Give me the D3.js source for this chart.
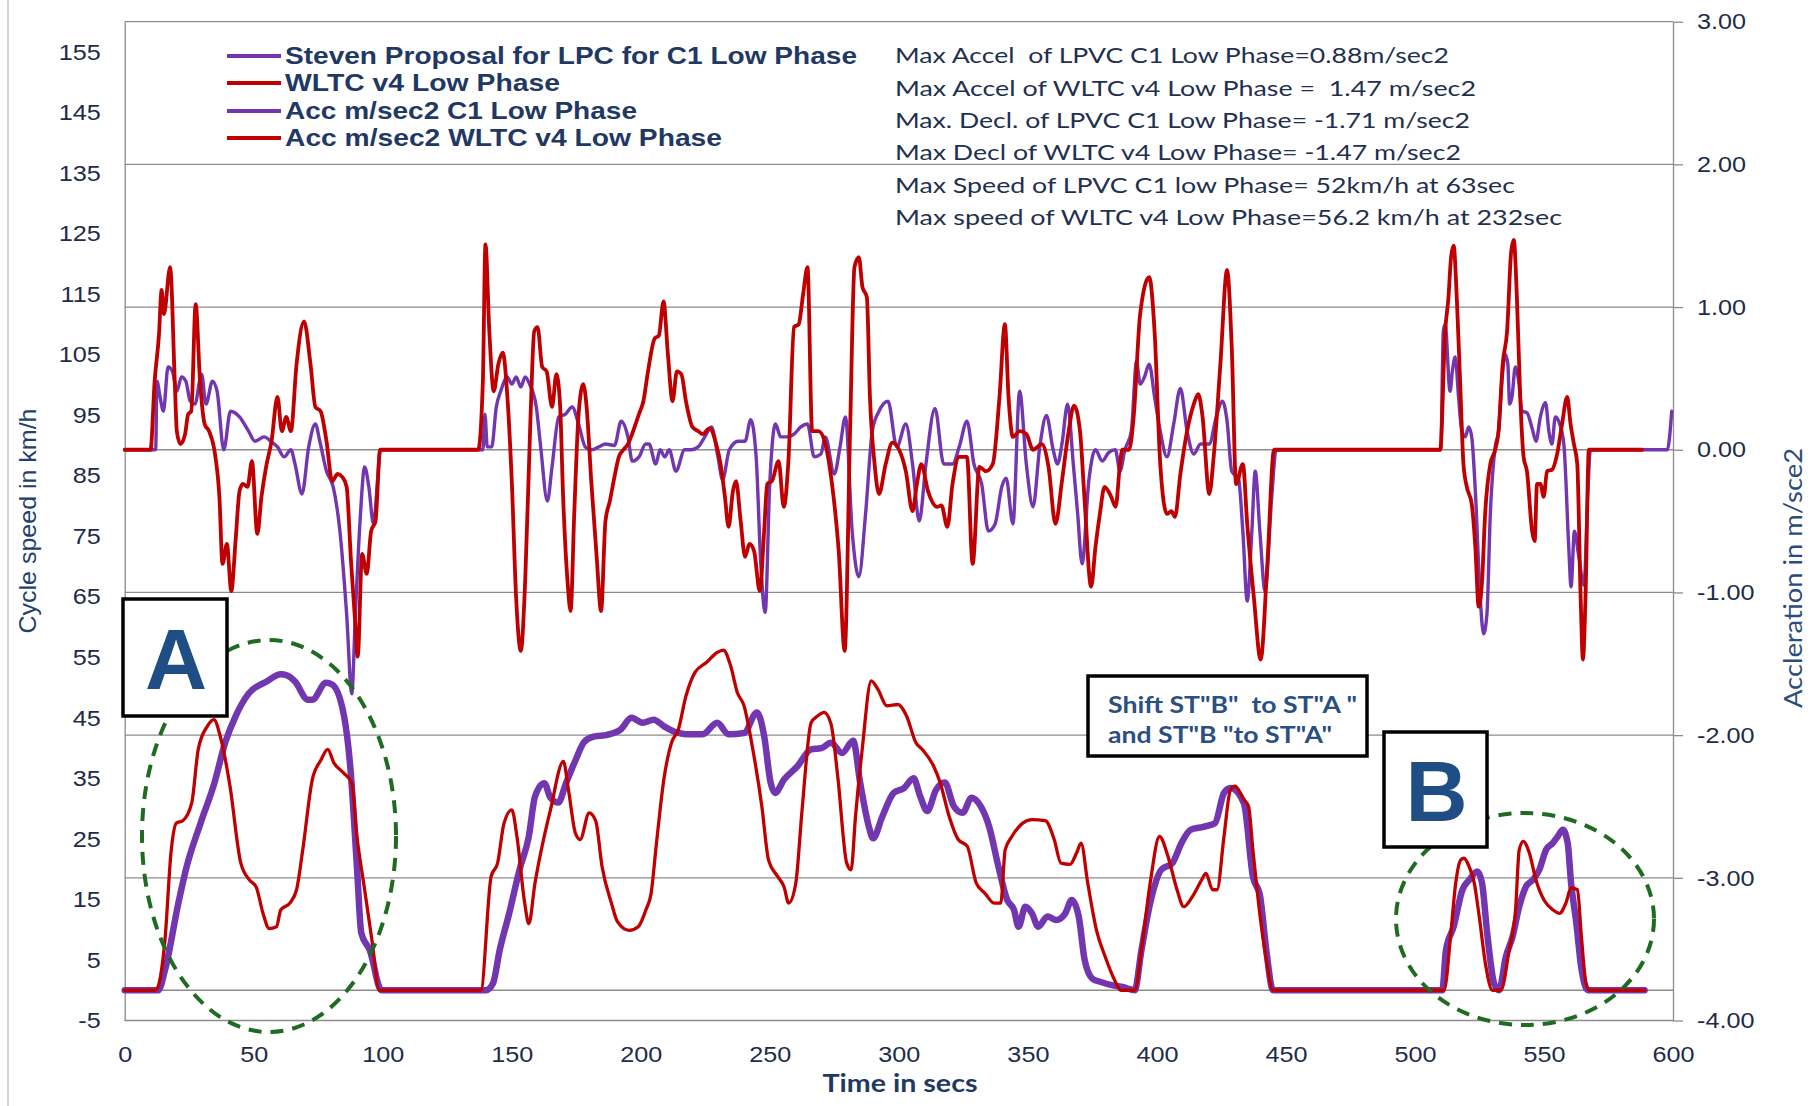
<!DOCTYPE html>
<html>
<head>
<meta charset="utf-8">
<script src="https://cdn.jsdelivr.net/npm/d3@7"></script>
<style>
  html, body { margin: 0; padding: 0; background: #ffffff; }
  svg { display: block; }
  text { white-space: pre; }
</style>
</head>
<body>
<svg id="chart" width="1810" height="1106"></svg>
<script>
// ---------- data: [time in s, value] ----------
const speedC1 = [[0,0],[13,0],[15.6,3.3],[20.8,14.4],[24,20.4],[29.4,27.6],[34.6,34],[39,41],[43,45.3],[48,49],[55,51],[60.5,52.2],[63,52],[66,51],[71,48],[72.7,48],[78,50.8],[80.4,50.5],[85,45.3],[87.4,37],[90,20.4],[91.7,9.4],[95,6.6],[99.5,0],[140,0],[142.7,1.1],[145.3,6.6],[149,12.7],[153,19.9],[156.6,25.4],[159,32],[162.6,34.2],[165,31.8],[168,31],[171,34.2],[174.7,38],[178,41],[181.7,41.9],[187,42.2],[192,43],[196.4,45],[200.7,44.2],[205,44.7],[209,43.6],[214.5,42.5],[217.5,42.3],[224,42.3],[229.6,44.2],[234,42.3],[240,42.5],[245,45.9],[247.8,42],[250.3,34.3],[252,32.6],[255.5,34.8],[260.7,37],[266,39.8],[270,40],[273.7,40.9],[278,39.2],[282.3,41.2],[285,34.3],[288.4,27],[290,25.1],[293.6,28.7],[298,32.6],[302,33.4],[305.7,35],[308.3,32],[311,29.6],[314.4,33.1],[317.8,34.3],[321.3,30.4],[324.7,29.3],[328.2,31.8],[331.7,30.4],[335,27],[338.6,20.4],[342,14.9],[344.6,13.3],[346.4,10.5],[349,13.8],[351.6,12.7],[354,10.5],[357.6,12.2],[361,11.6],[364.5,12.7],[367,14.9],[369.7,12.2],[372,5],[375,1.9],[378,1.4],[383,0.8],[387,0.5],[391.4,0],[394,6.6],[397.4,14.4],[401.7,19.9],[406,21],[409.5,24.3],[413,26.5],[418,27],[422.5,27.6],[426,32.6],[428.5,33.4],[433.7,30.9],[437.2,18.8],[440,15.5],[442.4,6.6],[445,0],[510.6,0],[512,6.6],[515,10.5],[518.4,16.6],[521,18.2],[524.2,19.6],[526,17.7],[528,9.4],[530.7,1.1],[532.6,0],[535.2,5.5],[537.8,8.8],[540.4,13.8],[543,17.1],[545.6,18.2],[548.2,19.9],[550.8,23.2],[553.4,24.3],[555.3,25.4],[557.3,26.5],[559.2,24.3],[560.5,17.7],[562.4,11.6],[564.4,3.9],[567,0],[589,0]];

const speedWLTC = [[0,0],[12,0],[15.6,8.3],[18,23],[20,27.6],[22.5,28],[26,31],[28.5,39.8],[32,43.6],[34.6,44.7],[37,42],[40.7,34],[45,21],[48.4,18.2],[51,17],[53.6,12.7],[56,10.2],[58.8,10.5],[60.5,13.3],[64,14.4],[66.6,16.6],[69,23.2],[72.7,34.8],[76,38],[78.7,39.8],[81,37.6],[84.8,35.9],[88,34.2],[90,25.4],[92.6,17.7],[96,7.7],[98.6,0],[138,0],[142,18.8],[144.5,21],[147,27.6],[150,29.8],[152,25.4],[155,14.4],[156.6,11],[159,17.7],[162,24.3],[165,29.8],[170,37.8],[172,33],[174.7,25.9],[176.5,24.9],[180,29.3],[182.5,28],[185,20.4],[188.6,14.4],[191,11.3],[195.5,9.9],[199,10.5],[202,13.3],[204,16],[206,24],[209,35],[212,41],[214.5,43],[217.5,48.6],[221,52.5],[225.3,54.1],[229.6,55.8],[232,56.2],[234.8,53.6],[237.4,49.2],[240,47],[243.4,39.8],[246.9,30.4],[249.5,21.5],[253,18.8],[255.5,17.1],[257.3,14.4],[260,17.5],[262.5,29.8],[266,44.2],[268.5,45.3],[271,45.9],[273.7,44],[276.3,35.4],[279.8,21],[281.5,19.9],[283.2,28.7],[285.8,39.8],[289.3,51.1],[291.9,49.7],[295.3,47],[299.7,47.2],[303,45.3],[306.6,40.9],[309,39.8],[313.5,37],[316,34.3],[319.5,28.7],[323,24.9],[326.5,23.8],[330,17.7],[333.4,16],[336.9,14.4],[339.5,14.4],[341.2,23.2],[343.8,25.4],[348,27.6],[351.6,28.2],[356.7,28],[360.2,24.9],[362.8,21],[366.3,20.8],[368.9,22.7],[370.6,24.3],[373.2,17.7],[376.6,9.9],[380,5.5],[383.6,1.7],[386,0],[391.4,0],[394,6.6],[397.4,17.7],[401,25.4],[404.3,22.1],[407.8,16.6],[410.4,13.8],[413.8,15.5],[417.3,18.2],[419,19.3],[421.6,16.6],[423.3,16.6],[426,25.4],[428.5,33.1],[430.3,33.7],[433.7,31.5],[435.5,30.4],[437.2,23.2],[440,12.2],[442.4,5],[445,0],[511.3,0],[513.9,9.4],[515.8,17.7],[517.7,21.5],[519,21.8],[521,20.4],[523,17.7],[524.9,12.2],[527.5,3.9],[530,0],[533.3,0],[536.5,6.6],[539,13.3],[540.4,23.2],[542,24.6],[544.3,22.7],[546.9,18.2],[550,14.9],[553.4,13.3],[556,12.7],[558.5,14.4],[560.5,16.9],[563,16.6],[564.4,9.4],[566.3,1.1],[567.6,0],[589,0]];

const accC1 = [[0,0],[12,0],[12.5,0.48],[13.7,0.37],[15,0.27],[16.8,0.58],[18.5,0.55],[20.2,0.41],[22,0.51],[23.7,0.48],[25.4,0.34],[27.2,0.32],[29.8,0.53],[31.5,0.32],[34,0.48],[35.8,0.41],[38.4,0],[41,0.27],[44.5,0.23],[48,0.13],[50.5,0.06],[54,0.09],[56.6,0.06],[59.2,0.02],[61.8,-0.05],[64.4,0],[66,-0.1],[68.7,-0.31],[71.3,0.02],[73.9,0.18],[75.6,0.06],[78.2,-0.15],[80.8,-0.26],[83.4,-0.57],[86,-1.15],[88,-1.71],[89.4,-1.15],[91.2,-0.5],[93,-0.12],[94.6,-0.26],[96.4,-0.52],[98,-0.21],[99,0],[138.8,0],[139.6,0.25],[140.5,0.02],[142.2,0.02],[144,0.3],[145.7,0.41],[148.3,0.51],[150,0.46],[151.7,0.51],[153.5,0.44],[155.2,0.51],[156.9,0.46],[159.5,0.3],[161.2,0.02],[163.8,-0.36],[165.6,-0.12],[168.2,0.23],[170.8,0.25],[173.4,0.3],[175.9,0.18],[178.5,0.02],[181,0],[183.7,0.02],[186.3,0.04],[189.8,0.03],[192.4,0.2],[195,0.09],[196.7,-0.08],[199.3,-0.05],[201.9,0.04],[203.2,0.04],[205.8,-0.1],[207.5,0],[209.3,-0.05],[211,0],[213.6,-0.15],[217,0],[219.6,0],[222.2,0.02],[224.8,0.09],[227.4,0.16],[229.9,-0.05],[231.7,-0.21],[234.3,0],[237.8,0.06],[240.4,0.06],[242.6,0.21],[244.7,-0.05],[246.5,-0.8],[248.2,-1.14],[249.9,-0.27],[252.2,0.18],[254.2,0.09],[256.8,0.09],[259.4,0.11],[262,0.16],[264.6,0.18],[267.2,-0.05],[269.8,-0.03],[271.5,0.09],[275,-0.17],[277.2,0.02],[279.3,0.23],[281.9,-0.57],[284.5,-0.89],[287.1,-0.45],[289.7,0.13],[292.3,0.27],[295.8,0.34],[299.2,0.02],[302.7,0.18],[305.3,-0.1],[307.9,-0.5],[310.5,-0.1],[314,0.29],[317.4,-0.1],[320.8,-0.1],[323.4,0.02],[326.4,0.2],[329.1,-0.1],[332.1,-0.24],[334.7,-0.57],[337.3,-0.52],[339.9,-0.26],[341.6,-0.2],[344.2,-0.52],[346.8,0.41],[349.4,-0.1],[352,-0.4],[354.6,0.02],[357.2,0.24],[359.8,0],[361.5,-0.1],[363.2,0.04],[365.4,0.32],[367.6,-0.1],[369.3,-0.45],[371,-0.8],[373.6,-0.22],[376.2,0],[378.8,-0.08],[381.3,-0.02],[383.9,0],[385.7,-0.15],[387.6,0],[390.1,0.13],[392.1,0.62],[393.5,0.46],[395.2,0.51],[397,0.6],[399.1,0.37],[401.3,0.13],[403.9,-0.05],[406.5,0.18],[409.1,0.43],[411.7,0.13],[414.3,-0.03],[416.9,0.04],[420.3,0.04],[423,0.23],[425.4,0.34],[427.2,0.2],[429,-0.15],[431.6,-0.2],[433.3,-0.57],[435,-1.06],[436.8,-0.57],[438.1,-0.15],[439.9,-0.57],[441.9,-0.99],[444.5,-0.33],[446.2,0],[510,0],[511,0.83],[511.7,0.88],[513.6,0.41],[514.5,0.55],[515.6,0.65],[516.9,0.37],[518.2,0.13],[519.5,0.09],[520.8,0.16],[522,0.09],[523.4,-0.29],[525.3,-1.04],[526.6,-1.29],[527.9,-1.15],[529.2,-0.45],[531.1,0.02],[532.4,0.13],[533.7,0.48],[535,0.67],[536,0.6],[536.7,0.32],[537.6,0.37],[538.9,0.58],[540.2,0.48],[541.5,0.27],[543.4,0.26],[545.4,0.15],[546.9,0.06],[548.6,0.23],[550.6,0.33],[551.9,0.13],[553.1,0.04],[554.4,0.23],[555.7,0.2],[557.7,0.04],[559.6,-0.68],[560.5,-0.96],[561.8,-0.57],[563.5,-0.75],[565.5,-0.95],[567,-0.3],[568,0],[597.8,0],[599.5,0.27]];

const accWLTC = [[0,0],[10,0],[11.6,0.48],[13.3,0.81],[14.3,1.12],[15.2,0.95],[17.6,1.28],[19.4,0.48],[20.2,0.13],[21.6,0.04],[23.4,0.11],[24.6,0.25],[25.8,0.27],[27.5,1.02],[29.2,0.48],[31,0.18],[32.7,0.13],[35,-0.03],[36.7,-0.33],[37.9,-0.8],[39.6,-0.66],[41.3,-0.99],[43,-0.63],[44.5,-0.29],[45.8,-0.24],[47.6,-0.26],[49.3,-0.08],[51.4,-0.59],[53,-0.33],[54.8,-0.12],[56.9,0.06],[59.2,0.37],[60.9,0.13],[62.6,0.23],[64.4,0.13],[66.6,0.6],[69.5,0.9],[72,0.6],[73.9,0.3],[75.9,0.27],[78.2,0.06],[80.4,-0.22],[82.5,-0.17],[84.3,-0.19],[86,-0.26],[87.7,-0.78],[89.1,-1.15],[90.3,-1.45],[92,-0.73],[93.8,-0.87],[95.5,-0.57],[97.2,-0.5],[99,0],[137,0],[138.8,0.48],[139.8,1.44],[141.3,0.83],[143,0.41],[144.8,0.6],[146.5,0.68],[148.3,0.37],[150,-0.22],[151.7,-1.04],[153.5,-1.41],[155.2,-0.92],[157.3,0.25],[158.7,0.83],[160,0.86],[161.8,0.58],[163.5,0.55],[165.6,0.3],[167.3,0.53],[168.7,0.32],[169.9,-0.33],[171.6,-0.92],[172.8,-1.13],[174.2,-0.45],[175.9,0.25],[177.7,0.46],[179,0.3],[180.8,-0.22],[182.9,-0.75],[184.6,-1.13],[186.3,-0.5],[188,-0.36],[189.8,-0.19],[191.5,-0.05],[193.3,0],[195,0.04],[197.6,0.16],[199.3,0.25],[201,0.34],[202.8,0.55],[205.4,0.78],[207,0.8],[208.8,1.04],[210.5,0.67],[212.3,0.34],[214,0.55],[215.7,0.53],[217.5,0.34],[220,0.16],[222.3,0.13],[224,0.11],[226.6,0.15],[229.2,0.04],[230.9,-0.1],[232.6,-0.33],[234,-0.54],[235.7,-0.29],[236.9,-0.22],[238.7,-0.5],[240.4,-0.75],[242.1,-0.66],[243.9,-0.71],[246.1,-0.99],[247.8,-0.57],[249,-0.24],[250.8,-0.22],[253.4,-0.08],[255.4,-0.4],[257.2,-0.08],[259.4,0.86],[261.2,0.88],[262.9,1.09],[264.6,1.28],[266.4,0.13],[268.9,0.13],[271.5,0.04],[274.1,-0.24],[276.7,-0.71],[279,-1.41],[281.1,0.13],[282.8,1.28],[284.5,1.35],[285.9,1.14],[287.6,1.07],[288.8,0.37],[290.6,-0.1],[292.3,-0.31],[294.9,-0.1],[297.5,0.05],[300.1,0],[302.7,-0.15],[305.3,-0.43],[307,-0.24],[308.7,-0.1],[311.3,-0.29],[314.8,-0.4],[316.5,-0.39],[318.8,-0.54],[320.8,-0.24],[323.4,-0.05],[326.4,-0.05],[328.6,-0.8],[331.2,-0.12],[333.8,-0.15],[336.4,-0.1],[339,0.37],[341.1,0.88],[342.5,0.37],[344.2,0.09],[346.8,0.13],[349.4,0.11],[352,0],[355.4,0.04],[358,-0.12],[360.7,-0.52],[363.2,-0.22],[365.8,0.13],[367.9,0.31],[370.2,0.13],[371.9,-0.33],[374.5,-0.96],[376.2,-0.68],[377.9,-0.45],[379.7,-0.26],[382.3,-0.33],[384,-0.4],[385.7,-0.1],[386.6,0],[389.2,0],[391,0.23],[393.5,0.95],[397,1.21],[399.1,0.83],[401.3,-0.1],[403.9,-0.45],[405.6,-0.43],[407,-0.47],[409.1,-0.17],[411.7,0.13],[414.3,0.32],[416,0.39],[417.7,0.23],[420.3,-0.31],[422,-0.05],[424.6,0.6],[427.2,1.26],[429,0.72],[430.7,-0.24],[433.3,-0.1],[435,-0.52],[437.6,-1.04],[440.2,-1.47],[442.8,-0.8],[445.4,0],[509.8,0],[511.7,0.83],[513,1.07],[514,1.35],[515,1.43],[516.2,1.07],[517.5,0.48],[518.8,-0.1],[520.1,-0.26],[522,-0.38],[523.4,-0.68],[524.7,-1.1],[526,-0.92],[527.2,-0.45],[529.2,-0.1],[531.1,0],[532.4,0.13],[534,0.6],[535.7,0.83],[537.3,1.39],[538.3,1.47],[539.5,1.07],[540.8,0.37],[542.1,-0.05],[543.4,-0.15],[545.4,-0.57],[546.4,-0.64],[547.3,-0.24],[548.6,-0.24],[549.9,-0.33],[551.2,-0.15],[553.1,-0.14],[555.1,-0.03],[557,0.18],[559,0.37],[560.3,0.18],[561.6,0.04],[562.9,-0.1],[564.2,-1.03],[565.1,-1.47],[566.1,-1.03],[567.4,0],[588,0]];

// ---------- axis ticks ----------
const timeTicks  = [0, 50, 100, 150, 200, 250, 300, 350, 400, 450, 500, 550, 600];
const speedTicks = [-5, 5, 15, 25, 35, 45, 55, 65, 75, 85, 95, 105, 115, 125, 135, 145, 155];
const accTicks   = [-4, -3, -2, -1, 0, 1, 2, 3];

// ---------- legend and notes ----------
const legendItems = [
  { label: "Steven Proposal for LPC for C1 Low Phase", color: "#7236B0" },
  { label: "WLTC v4 Low Phase", color: "#C00000" },
  { label: "Acc m/sec2 C1 Low Phase", color: "#7236B0" },
  { label: "Acc m/sec2 WLTC v4 Low Phase", color: "#C00000" }
];
const notes = [
  "Max Accel  of LPVC C1 Low Phase=0.88m/sec2",
  "Max Accel of WLTC v4 Low Phase =  1.47 m/sec2",
  "Max. Decl. of LPVC C1 Low Phase= -1.71 m/sec2",
  "Max Decl of WLTC v4 Low Phase= -1.47 m/sec2",
  "Max Speed of LPVC C1 low Phase= 52km/h at 63sec",
  "Max speed of WLTC v4 Low Phase=56.2 km/h at 232sec"
];
const shiftNote = ['Shift ST"B"  to ST"A "', 'and ST"B "to ST"A"'];

// ---------- layout ----------
const PURPLE = "#7236B0", RED = "#C00000", GRID = "#8c8c8c";
const TXT = "#1E2C4A", NAVY = "#1F3864";
const plotLeft = 124.7, plotRight = 1673, plotTop = 21.7, plotBottom = 1020.5;

const svg = d3.select("#chart");
svg.append("rect").attr("width", 1810).attr("height", 1106).attr("fill", "#fff");

// outer chart frame edge
svg.append("line").attr("x1", 8).attr("x2", 8).attr("y1", 0).attr("y2", 1106)
  .attr("stroke", "#c4c4c4").attr("stroke-width", 1.5);

const x = d3.scaleLinear().domain([0, 600]).range([plotLeft, plotRight]);
const ySpeed = d3.scaleLinear().domain([-5, 160]).range([plotBottom, plotTop]);
const yAcc = d3.scaleLinear().domain([-4, 3]).range([plotBottom, plotTop]);

// horizontal gridlines from the acceleration axis
svg.append("g").selectAll("line").data(accTicks).join("line")
  .attr("x1", plotLeft).attr("x2", plotRight)
  .attr("y1", d => yAcc(d)).attr("y2", d => yAcc(d))
  .attr("stroke", GRID).attr("stroke-width", 1.3);

// speed zero line
svg.append("line").attr("x1", plotLeft).attr("x2", plotRight)
  .attr("y1", ySpeed(0)).attr("y2", ySpeed(0))
  .attr("stroke", GRID).attr("stroke-width", 1.3);

function stretch(sel, k) {
  sel.each(function () {
    const L = this.getComputedTextLength();
    d3.select(this).attr("textLength", L * k).attr("lengthAdjust", "spacingAndGlyphs");
  });
}

// left axis
const gL = svg.append("g").attr("transform", `translate(${plotLeft},0)`)
  .call(d3.axisLeft(ySpeed).tickValues(speedTicks).tickSize(0).tickSizeOuter(0)
    .tickPadding(24).tickFormat(d => String(d)));
gL.select(".domain").attr("stroke", GRID).attr("stroke-width", 1.3);
gL.selectAll("text").attr("font-family", "Liberation Sans, Arial, sans-serif")
  .attr("font-size", 22.5).attr("fill", TXT);
stretch(gL.selectAll("text"), 1.12);

// right axis
const gR = svg.append("g").attr("transform", `translate(${plotRight},0)`)
  .call(d3.axisRight(yAcc).tickValues(accTicks).tickSize(10).tickSizeOuter(0)
    .tickPadding(14).tickFormat(d => d.toFixed(2)));
gR.select(".domain").attr("stroke", GRID).attr("stroke-width", 1.3);
gR.selectAll(".tick line").attr("stroke", GRID).attr("stroke-width", 1.3);
gR.selectAll("text").attr("font-family", "Liberation Sans, Arial, sans-serif")
  .attr("font-size", 22.5).attr("fill", TXT);
stretch(gR.selectAll("text"), 1.12);

// bottom axis
const gB = svg.append("g").attr("transform", `translate(0,${plotBottom})`)
  .call(d3.axisBottom(x).tickValues(timeTicks).tickSize(0).tickSizeOuter(0)
    .tickPadding(26).tickFormat(d => String(d)));
gB.select(".domain").remove();
gB.selectAll("text").attr("font-family", "Liberation Sans, Arial, sans-serif")
  .attr("font-size", 22.5).attr("fill", TXT);
stretch(gB.selectAll("text"), 1.12);

// axis titles
svg.append("text").attr("transform", "translate(27,521) rotate(-90)")
  .attr("text-anchor", "middle").attr("dominant-baseline", "central")
  .attr("font-family", "Liberation Sans, Arial, sans-serif").attr("font-size", 24)
  .attr("fill", "#22406E").attr("textLength", 225).attr("lengthAdjust", "spacingAndGlyphs")
  .text("Cycle speed in km/h");

svg.append("text").attr("transform", "translate(1792,578) rotate(-90)")
  .attr("text-anchor", "middle").attr("dominant-baseline", "central")
  .attr("font-family", "Lato, sans-serif").attr("font-size", 24.5)
  .attr("fill", "#2C4C7C").attr("textLength", 260).attr("lengthAdjust", "spacingAndGlyphs")
  .text("Accleration in m/sce2");

svg.append("text").attr("x", 900).attr("y", 1092).attr("text-anchor", "middle")
  .attr("font-family", "Lato, sans-serif").attr("font-size", 25).attr("font-weight", 700)
  .attr("fill", NAVY).attr("textLength", 155).attr("lengthAdjust", "spacingAndGlyphs")
  .text("Time in secs");

// series
const speedLine = d3.line().x(d => x(d[0])).y(d => ySpeed(d[1])).curve(d3.curveMonotoneX);
const accLine = d3.line().x(d => x(d[0])).y(d => yAcc(d[1])).curve(d3.curveMonotoneX);

const series = [
  { data: speedC1, gen: speedLine, color: PURPLE, w: 6.5 },
  { data: speedWLTC, gen: speedLine, color: RED, w: 3.3 },
  { data: accC1, gen: accLine, color: PURPLE, w: 3.4 },
  { data: accWLTC, gen: accLine, color: RED, w: 3.8 }
];
svg.append("g").selectAll("path").data(series).join("path")
  .attr("d", s => s.gen(s.data))
  .attr("fill", "none").attr("stroke", s => s.color).attr("stroke-width", s => s.w)
  .attr("stroke-linejoin", "round").attr("stroke-linecap", "round");

// legend
const legendY = [56, 83, 111, 138];
const legendW = [572, 275, 352, 437];
const lg = svg.append("g");
legendItems.forEach((d, i) => {
  lg.append("line").attr("x1", 227).attr("x2", 281)
    .attr("y1", legendY[i]).attr("y2", legendY[i])
    .attr("stroke", d.color).attr("stroke-width", 4);
  lg.append("text").attr("x", 285).attr("y", legendY[i]).attr("dy", "0.35em")
    .attr("font-family", "Liberation Sans, Arial, sans-serif").attr("font-weight", 700)
    .attr("font-size", 24).attr("fill", NAVY)
    .attr("textLength", legendW[i]).attr("lengthAdjust", "spacingAndGlyphs")
    .text(d.label);
});

// summary notes
const noteY = [63, 96, 128, 160, 193, 225];
const noteW = [554, 581, 575, 566, 620, 667];
const ng = svg.append("g");
notes.forEach((t, i) => {
  ng.append("text").attr("x", 895).attr("y", noteY[i])
    .attr("font-family", "Lato, sans-serif").attr("font-size", 22).attr("fill", "#1F3050")
    .attr("textLength", noteW[i]).attr("lengthAdjust", "spacingAndGlyphs")
    .text(t);
});

// highlight ellipses
const ellipses = [
  { cx: 269, cy: 836, rx: 127, ry: 196 },
  { cx: 1525, cy: 919, rx: 129, ry: 106 }
];
svg.append("g").selectAll("ellipse").data(ellipses).join("ellipse")
  .attr("cx", d => d.cx).attr("cy", d => d.cy).attr("rx", d => d.rx).attr("ry", d => d.ry)
  .attr("fill", "none").attr("stroke", "#1F6B22").attr("stroke-width", 4)
  .attr("stroke-dasharray", "13 9");

// lettered boxes
const boxes = [
  { label: "A", x: 123, y: 599, w: 104, h: 117 },
  { label: "B", x: 1384, y: 732, w: 103, h: 115 }
];
boxes.forEach(b => {
  svg.append("rect").attr("x", b.x).attr("y", b.y).attr("width", b.w).attr("height", b.h)
    .attr("fill", "#fff").attr("stroke", "#000").attr("stroke-width", 3.5);
  svg.append("text").attr("x", b.x + b.w / 2 + 1).attr("y", b.y + b.h / 2 + 31)
    .attr("text-anchor", "middle")
    .attr("font-family", "Liberation Sans, Arial, sans-serif").attr("font-weight", 700)
    .attr("font-size", 86).attr("fill", "#1F4E84")
    .text(b.label);
});

// shift note box
svg.append("rect").attr("x", 1088).attr("y", 676).attr("width", 279).attr("height", 80)
  .attr("fill", "#fff").attr("stroke", "#000").attr("stroke-width", 3.5);
[[713, 249], [743, 224]].forEach((p, i) => {
  svg.append("text").attr("x", 1108).attr("y", p[0])
    .attr("font-family", "Lato, sans-serif").attr("font-weight", 700)
    .attr("font-size", 22).attr("fill", "#2A4F82")
    .attr("textLength", p[1]).attr("lengthAdjust", "spacingAndGlyphs")
    .text(shiftNote[i]);
});
</script>
</body>
</html>
